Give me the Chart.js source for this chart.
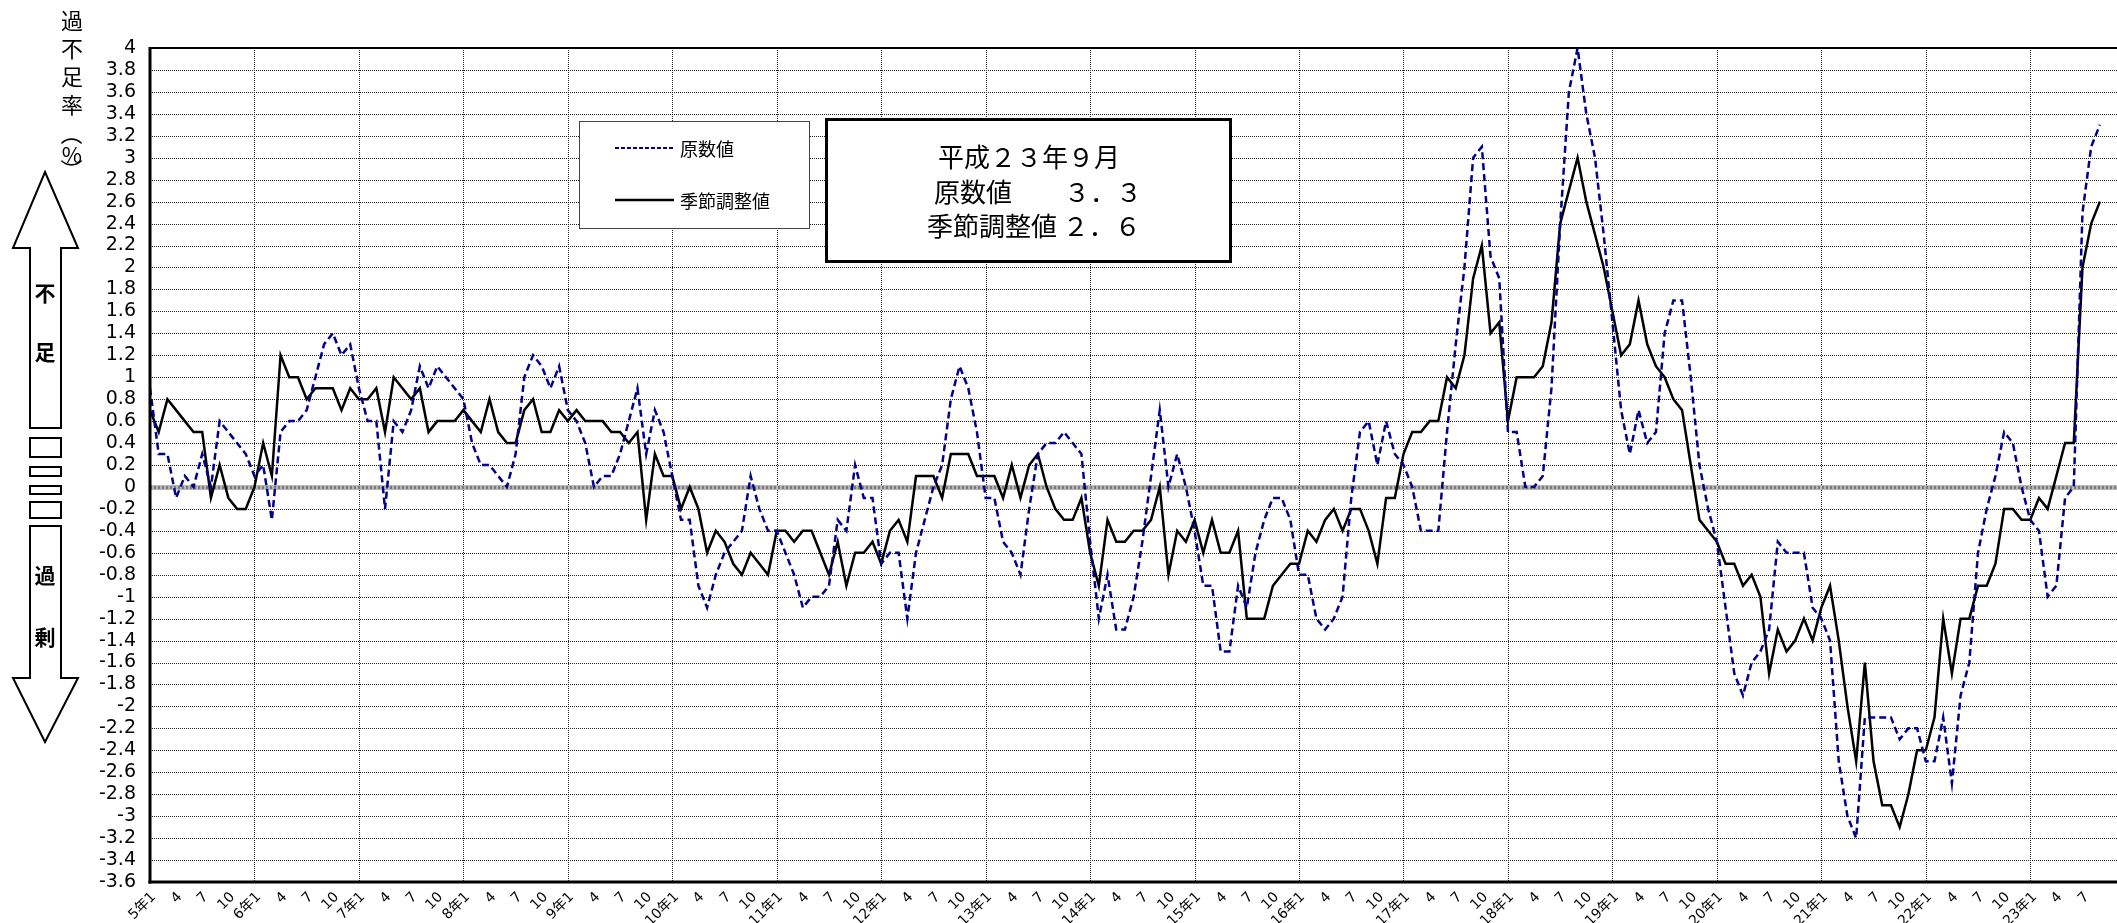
<!DOCTYPE html>
<html><head><meta charset="utf-8">
<script src="https://cdn.jsdelivr.net/npm/chart.js@4"></script>
<style>
html,body{margin:0;padding:0;overflow:hidden;background:#fff;}
#wrap{position:absolute;left:0;top:0;width:2126px;height:923px;}
#labels{position:absolute;left:0;top:0;width:2126px;height:923px;pointer-events:none;}
.xl{position:absolute;white-space:nowrap;font:14px 'DejaVu Sans','Noto Sans CJK JP',sans-serif;line-height:16px;height:16px;color:#000;transform-origin:100% 50%;transform:rotate(-45deg);}
</style></head><body>
<div id="wrap"><canvas id="c"></canvas></div>
<div id="labels"></div>
<script>
// ---- categories (平成5年1月 〜 平成23年9月) ----
const years = [5,6,7,8,9,10,11,12,13,14,15,16,17,18,19,20,21,22,23];
const lastMonth = 9;
const categories = [];
years.forEach(y => { for (let m = 1; m <= 12; m++) { if (y === 23 && m > lastMonth) break; categories.push(m === 1 ? y + '年1' : String(m)); } });

// ---- 原数値 ----
const originalValues = [
  0.9,0.3,0.3,-0.1,0.1,0.0,0.3,0.0,0.6,0.5,0.4,0.3,
  0.1,0.2,-0.3,0.5,0.6,0.6,0.7,1.0,1.3,1.4,1.2,1.3,
  0.9,0.6,0.6,-0.2,0.6,0.5,0.7,1.1,0.9,1.1,1.0,0.9,
  0.8,0.4,0.2,0.2,0.1,0.0,0.3,1.0,1.2,1.1,0.9,1.1,
  0.7,0.6,0.4,0.0,0.1,0.1,0.3,0.6,0.9,0.3,0.7,0.5,
  0.1,-0.3,-0.3,-0.9,-1.1,-0.8,-0.6,-0.5,-0.4,0.1,-0.2,-0.4,
  -0.4,-0.6,-0.8,-1.1,-1.0,-1.0,-0.9,-0.3,-0.4,0.2,-0.1,-0.1,
  -0.7,-0.6,-0.6,-1.2,-0.6,-0.3,0.0,0.2,0.8,1.1,0.9,0.5,
  -0.1,-0.1,-0.5,-0.6,-0.8,-0.2,0.3,0.4,0.4,0.5,0.4,0.3,
  -0.5,-1.2,-0.8,-1.3,-1.3,-1.0,-0.5,0.1,0.7,0.0,0.3,0.0,
  -0.4,-0.9,-0.9,-1.5,-1.5,-0.9,-1.1,-0.6,-0.3,-0.1,-0.1,-0.3,
  -0.8,-0.8,-1.2,-1.3,-1.2,-1.0,-0.1,0.5,0.6,0.2,0.6,0.3,
  0.2,0.0,-0.4,-0.4,-0.4,0.5,1.3,2.0,3.0,3.1,2.1,1.9,
  0.5,0.5,0.0,0.0,0.1,0.9,2.4,3.6,4.0,3.4,3.0,2.3,
  1.5,0.7,0.3,0.7,0.4,0.5,1.4,1.7,1.7,1.0,0.2,-0.2,
  -0.5,-1.1,-1.7,-1.9,-1.6,-1.5,-1.3,-0.5,-0.6,-0.6,-0.6,-1.1,
  -1.2,-1.4,-2.5,-3.0,-3.2,-2.1,-2.1,-2.1,-2.1,-2.3,-2.2,-2.2,
  -2.5,-2.5,-2.1,-2.7,-1.9,-1.6,-0.6,-0.2,0.1,0.5,0.4,0.0,
  -0.3,-0.4,-1.0,-0.9,-0.1,0.0,2.5,3.1,3.3
];

// ---- 季節調整値 ----
const adjustedValues = [
  0.7,0.5,0.8,0.7,0.6,0.5,0.5,-0.1,0.2,-0.1,-0.2,-0.2,
  0.0,0.4,0.1,1.2,1.0,1.0,0.8,0.9,0.9,0.9,0.7,0.9,
  0.8,0.8,0.9,0.5,1.0,0.9,0.8,0.9,0.5,0.6,0.6,0.6,
  0.7,0.6,0.5,0.8,0.5,0.4,0.4,0.7,0.8,0.5,0.5,0.7,
  0.6,0.7,0.6,0.6,0.6,0.5,0.5,0.4,0.5,-0.3,0.3,0.1,
  0.1,-0.2,0.0,-0.2,-0.6,-0.4,-0.5,-0.7,-0.8,-0.6,-0.7,-0.8,
  -0.4,-0.4,-0.5,-0.4,-0.4,-0.6,-0.8,-0.5,-0.9,-0.6,-0.6,-0.5,
  -0.7,-0.4,-0.3,-0.5,0.1,0.1,0.1,-0.1,0.3,0.3,0.3,0.1,
  0.1,0.1,-0.1,0.2,-0.1,0.2,0.3,0.0,-0.2,-0.3,-0.3,-0.1,
  -0.6,-0.9,-0.3,-0.5,-0.5,-0.4,-0.4,-0.3,0.0,-0.8,-0.4,-0.5,
  -0.3,-0.6,-0.3,-0.6,-0.6,-0.4,-1.2,-1.2,-1.2,-0.9,-0.8,-0.7,
  -0.7,-0.4,-0.5,-0.3,-0.2,-0.4,-0.2,-0.2,-0.4,-0.7,-0.1,-0.1,
  0.3,0.5,0.5,0.6,0.6,1.0,0.9,1.2,1.9,2.2,1.4,1.5,
  0.6,1.0,1.0,1.0,1.1,1.5,2.4,2.7,3.0,2.6,2.3,2.0,
  1.6,1.2,1.3,1.7,1.3,1.1,1.0,0.8,0.7,0.2,-0.3,-0.4,
  -0.5,-0.7,-0.7,-0.9,-0.8,-1.0,-1.7,-1.3,-1.5,-1.4,-1.2,-1.4,
  -1.1,-0.9,-1.4,-2.0,-2.5,-1.6,-2.5,-2.9,-2.9,-3.1,-2.8,-2.4,
  -2.4,-2.1,-1.2,-1.7,-1.2,-1.2,-0.9,-0.9,-0.7,-0.2,-0.2,-0.3,
  -0.3,-0.1,-0.2,0.1,0.4,0.4,2.0,2.4,2.6
];

// ---- y tick values ----
const yTickValues = [4,3.8,3.6,3.4,3.2,3,2.8,2.6,2.4,2.2,2,1.8,1.6,1.4,1.2,1,0.8,0.6,0.4,0.2,0,
  -0.2,-0.4,-0.6,-0.8,-1,-1.2,-1.4,-1.6,-1.8,-2,-2.2,-2.4,-2.6,-2.8,-3,-3.2,-3.4,-3.6];

const seriesNames = ['原数値', '季節調整値'];
const titleChars = ['過','不','足','率','（','%','）'];
const infoLines = ['平成２３年９月', '原数値　　３．３', '季節調整値 ２．６'];
const X_MAX = 227;
const WRAP_W = 2126;

const FONT_NUM = "'DejaVu Sans', 'Noto Sans CJK JP', sans-serif";
const FONT_JP = "'Noto Sans CJK JP', sans-serif";

const noGrid = { display: false, drawOnChartArea: false, drawTicks: false, color: 'rgba(0,0,0,0)', lineWidth: 0 };

// x-axis month labels as real HTML text, positioned from the chart's x scale
const htmlLabels = {
  id: 'htmlLabels',
  afterRender(chart) {
    const box = document.getElementById('labels');
    if (box.childElementCount) return;
    const {chartArea: a, scales: {x}} = chart;
    categories.forEach((c, i) => {
      if (i % 3 !== 0) return;
      const px = x.getPixelForValue(i);
      const d = document.createElement('div');
      d.className = 'xl';
      d.textContent = c;
      d.style.right = (WRAP_W - (px + 3)) + 'px';
      d.style.top = (a.bottom + 12 - 8) + 'px';
      box.appendChild(d);
    });
  }
};

const deco = {
  id: 'deco',
  beforeDatasetsDraw(chart) {
    const {ctx, chartArea: a, scales: {x, y}} = chart;
    ctx.save();
    ctx.strokeStyle = '#222'; ctx.lineWidth = 1; ctx.setLineDash([1, 1]);
    ctx.beginPath();
    yTickValues.forEach(v => {
      if (Math.abs(v) < 1e-9 || v === 4 || v === -3.6) return;
      const py = Math.round(y.getPixelForValue(v)) + 0.5;
      ctx.moveTo(a.left, py); ctx.lineTo(a.right, py);
    });
    categories.forEach((c, i) => {
      if (i > 0 && i % 12 === 0) {
        const px = Math.round(x.getPixelForValue(i)) + 0.5;
        ctx.moveTo(px, a.top); ctx.lineTo(px, a.bottom);
      }
    });
    ctx.stroke();
    const y0 = Math.round(y.getPixelForValue(0)) + 0.5;
    ctx.setLineDash([]);
    ctx.strokeStyle = '#b8b8b8'; ctx.lineWidth = 5;
    ctx.beginPath(); ctx.moveTo(a.left, y0); ctx.lineTo(a.right, y0); ctx.stroke();
    ctx.setLineDash([2, 2]); ctx.strokeStyle = '#7a7a7a'; ctx.lineWidth = 3;
    ctx.beginPath(); ctx.moveTo(a.left, y0); ctx.lineTo(a.right, y0); ctx.stroke();
    ctx.restore();
  },
  afterDatasetsDraw(chart) {
    const {ctx, chartArea: a} = chart;
    ctx.save();
    ctx.strokeStyle = '#000'; ctx.setLineDash([]);
    ctx.lineWidth = 2;
    ctx.beginPath(); ctx.moveTo(a.left, a.top); ctx.lineTo(a.right, a.top); ctx.stroke();
    ctx.lineWidth = 3;
    ctx.beginPath(); ctx.moveTo(a.left, a.top - 1); ctx.lineTo(a.left, a.bottom + 1.5); ctx.stroke();
    ctx.beginPath(); ctx.moveTo(a.left - 1.5, a.bottom); ctx.lineTo(a.right, a.bottom); ctx.stroke();
    ctx.restore();
  },
  afterDraw(chart) {
    const ctx = chart.ctx;
    const ds = chart.data.datasets;
    ctx.save();
    // legend box
    ctx.fillStyle = '#fff'; ctx.fillRect(579, 121, 230, 107);
    ctx.strokeStyle = '#444'; ctx.lineWidth = 1; ctx.setLineDash([]);
    ctx.strokeRect(579.5, 121.5, 230, 107);
    [148, 200].forEach((ly, k) => {
      ctx.strokeStyle = ds[k].borderColor; ctx.lineWidth = k === 0 ? 2 : 2.5;
      ctx.setLineDash(k === 0 ? [4, 2] : []);
      ctx.beginPath(); ctx.moveTo(615, ly); ctx.lineTo(674, ly); ctx.stroke();
      ctx.setLineDash([]);
      ctx.fillStyle = '#000'; ctx.font = '18px ' + FONT_JP;
      ctx.textAlign = 'left'; ctx.textBaseline = 'middle';
      ctx.fillText(ds[k].label, 680, ly + 1);
    });
    // info box
    ctx.fillStyle = '#fff'; ctx.fillRect(826, 119, 405, 143);
    ctx.strokeStyle = '#000'; ctx.lineWidth = 3;
    ctx.strokeRect(826.5, 119.5, 404, 142);
    ctx.fillStyle = '#000'; ctx.font = '26px ' + FONT_JP;
    ctx.textAlign = 'left'; ctx.textBaseline = 'middle';
    const lx = [938, 934, 927], lys = [157, 192, 226];
    infoLines.forEach((t, k) => ctx.fillText(t, lx[k], lys[k]));
    // y axis title (vertical)
    ctx.font = '22px ' + FONT_JP; ctx.textAlign = 'center';
    const ty = [21, 49, 77, 105, 134, 155, 170];
    titleChars.forEach((ch, k) => {
      if (ch === '（' || ch === '）') {
        ctx.save(); ctx.translate(72, ty[k]); ctx.rotate(Math.PI / 2); ctx.fillText(ch, 0, 0); ctx.restore();
      } else {
        ctx.fillText(ch, 72, ty[k]);
      }
    });
    // arrows
    ctx.strokeStyle = '#000'; ctx.lineWidth = 2; ctx.fillStyle = '#fff';
    const poly = pts => { ctx.beginPath(); ctx.moveTo(pts[0][0], pts[0][1]); pts.slice(1).forEach(p => ctx.lineTo(p[0], p[1])); ctx.closePath(); ctx.fill(); ctx.stroke(); };
    poly([[45,172],[78,248],[61,248],[61,428],[30,428],[30,248],[13,248]]);
    poly([[30,526],[61,526],[61,678],[78,678],[45,742],[13,678],[30,678]]);
    [[438,19],[467,9],[486,8],[502,16]].forEach(r => { ctx.fillRect(30, r[0], 31, r[1]); ctx.strokeRect(30, r[0], 31, r[1]); });
    ctx.fillStyle = '#000'; ctx.font = 'bold 21px ' + FONT_JP;
    [['不',293],['足',352],['過',575],['剰',637]].forEach(t => ctx.fillText(t[0], 45, t[1]));
    ctx.restore();
  }
};

new Chart(document.getElementById('c'), {
  type: 'line',
  data: {
    datasets: [
      { label: seriesNames[0], data: originalValues.map((v, i) => ({x: i, y: v})), borderColor: '#00008b', borderWidth: 2.5, borderDash: [7, 4], pointRadius: 0, tension: 0, fill: false },
      { label: seriesNames[1], data: adjustedValues.map((v, i) => ({x: i, y: v})), borderColor: '#000000', borderWidth: 2.5, pointRadius: 0, tension: 0, fill: false }
    ]
  },
  options: {
    responsive: true, maintainAspectRatio: false, animation: false,
    layout: { padding: { top: 48, left: 0, right: 0, bottom: 41 } },
    plugins: { legend: { display: false }, tooltip: { enabled: false } },
    scales: {
      x: { type: 'linear', display: false, min: 0, max: X_MAX, grid: noGrid },
      y: {
        min: -3.6, max: 4,
        grid: noGrid, border: { display: false },
        afterBuildTicks: s => { s.ticks = yTickValues.map(v => ({value: v})); },
        afterFit: s => { s.width = 150; },
        ticks: { autoSkip: false, padding: 14, color: '#000', font: { family: FONT_NUM, size: 19 },
          callback: v => String(Math.round(v * 10) / 10) }
      }
    }
  },
  plugins: [deco, htmlLabels]
});
</script>
</body></html>
